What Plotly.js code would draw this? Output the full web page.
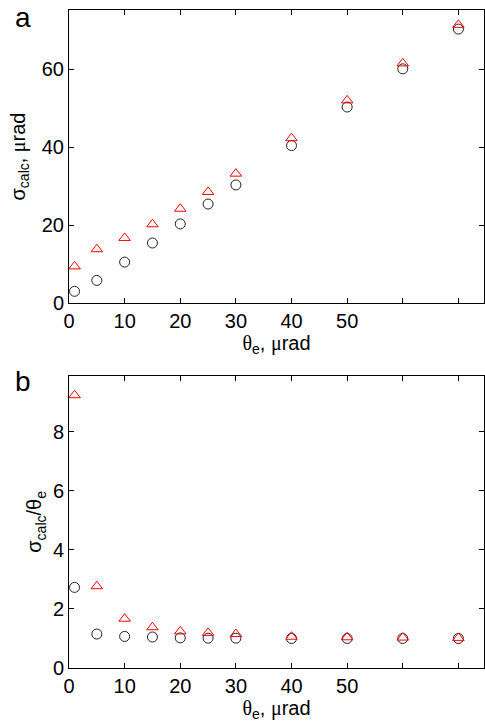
<!DOCTYPE html>
<html>
<head>
<meta charset="utf-8">
<script src="https://cdn.plot.ly/plotly-3.0.1.min.js"></script>
<style>html,body{margin:0;padding:0;background:#fff;}#chart{width:485px;height:725px;}</style>
</head>
<body>
<div id="chart"></div>
<script>
// Data
const thetaE = [1, 5, 10, 15, 20, 25, 30, 40, 50, 60, 70];
const sigmaCircles = [3.0, 5.8, 10.5, 15.4, 20.3, 25.4, 30.3, 40.4, 50.3, 60.1, 70.3];
const sigmaTriangles = [9.4, 13.8, 16.7, 20.2, 24.2, 28.5, 33.2, 42.3, 52.0, 61.5, 71.4];
const ratioCircles = [2.73, 1.15, 1.07, 1.05, 1.02, 1.01, 1.01, 1.0, 1.0, 1.0, 1.0];
const ratioTriangles = [9.24, 2.77, 1.67, 1.38, 1.24, 1.19, 1.15, 1.06, 1.04, 1.03, 1.02];
const xTickVals = [0, 10, 20, 30, 40, 50];
const xTickText = ["0", "10", "20", "30", "40", "50"];
const xUnlabelledTicks = [60, 70];
const yTopTicks = [0, 20, 40, 60];
const yBotTicks = [0, 2, 4, 6, 8];

const SERIF = "'Liberation Serif', 'DejaVu Serif', serif";
const SANS = "'Liberation Sans', Arial, sans-serif";
const mu = "<span style=\"font-family:Liberation Serif\">μ</span>";
const theta = "<span style=\"font-family:Liberation Serif\">θ</span>";

const circ = {symbol: 'circle-open', size: 10, color: '#222', line: {width: 1, color: '#222'}};
const tri = {symbol: 'triangle-up-open', size: 10, color: '#ff0000', line: {width: 1, color: '#ff0000'}};

const traces = [
  {x: thetaE, y: sigmaCircles, mode: 'markers', marker: circ, xaxis: 'x', yaxis: 'y', cliponaxis: false},
  {x: thetaE, y: sigmaTriangles, mode: 'markers', marker: tri, xaxis: 'x', yaxis: 'y', cliponaxis: false},
  {x: thetaE, y: ratioCircles, mode: 'markers', marker: circ, xaxis: 'x2', yaxis: 'y2', cliponaxis: false},
  {x: thetaE, y: ratioTriangles, mode: 'markers', marker: tri, xaxis: 'x2', yaxis: 'y2', cliponaxis: false}
];

const axCommon = {
  showline: true, linecolor: '#000', linewidth: 1, mirror: 'ticks',
  ticks: 'inside', ticklen: 5, tickwidth: 1, tickcolor: '#000',
  showgrid: false, zeroline: false,
  tickfont: {family: SANS, size: 20, color: '#000'}
};

const xMinor = {tickvals: xUnlabelledTicks, ticks: 'inside', ticklen: 5, tickwidth: 1, tickcolor: '#000', showgrid: false};
const xTitle = {text: theta + "<sub>e</sub>, " + mu + "rad", font: {family: SANS, size: 20, color: '#000'}, standoff: 2};

const layout = {
  width: 485, height: 725,
  margin: {l: 69, r: 1, t: 10, b: 57},
  paper_bgcolor: '#fff', plot_bgcolor: '#fff',
  showlegend: false,
  font: {family: SANS, color: '#000'},
  xaxis: Object.assign({}, axCommon, {
    domain: [0, 1], anchor: 'y', range: [0, 74.6],
    tickvals: xTickVals, ticktext: xTickText, minor: xMinor, title: xTitle
  }),
  yaxis: Object.assign({}, axCommon, {
    domain: [0.5547, 1], anchor: 'x', range: [0, 75.2],
    tickvals: yTopTicks,
    title: {text: "σ<sub>calc</sub>, " + mu + "rad", font: {family: SANS, size: 20, color: '#000'}, standoff: 10}
  }),
  xaxis2: Object.assign({}, axCommon, {
    domain: [0, 1], anchor: 'y2', range: [0, 74.6],
    tickvals: xTickVals, ticktext: xTickText, minor: xMinor, title: xTitle
  }),
  yaxis2: Object.assign({}, axCommon, {
    domain: [0, 0.4442], anchor: 'x2', range: [0, 9.9],
    tickvals: yBotTicks,
    title: {text: "σ<sub>calc</sub>/θ<sub>e</sub>", font: {family: SANS, size: 20, color: '#000'}, standoff: 5}
  }),
  annotations: [
    {text: 'a', xref: 'paper', yref: 'paper', x: -0.135, y: 0.989, xanchor: 'left', yanchor: 'middle', showarrow: false, font: {family: SANS, size: 28, color: '#000'}},
    {text: 'b', xref: 'paper', yref: 'paper', x: -0.135, y: 0.436, xanchor: 'left', yanchor: 'middle', showarrow: false, font: {family: SANS, size: 28, color: '#000'}}
  ]
};

Plotly.newPlot('chart', traces, layout, {displayModeBar: false, staticPlot: true});
</script>
</body>
</html>
